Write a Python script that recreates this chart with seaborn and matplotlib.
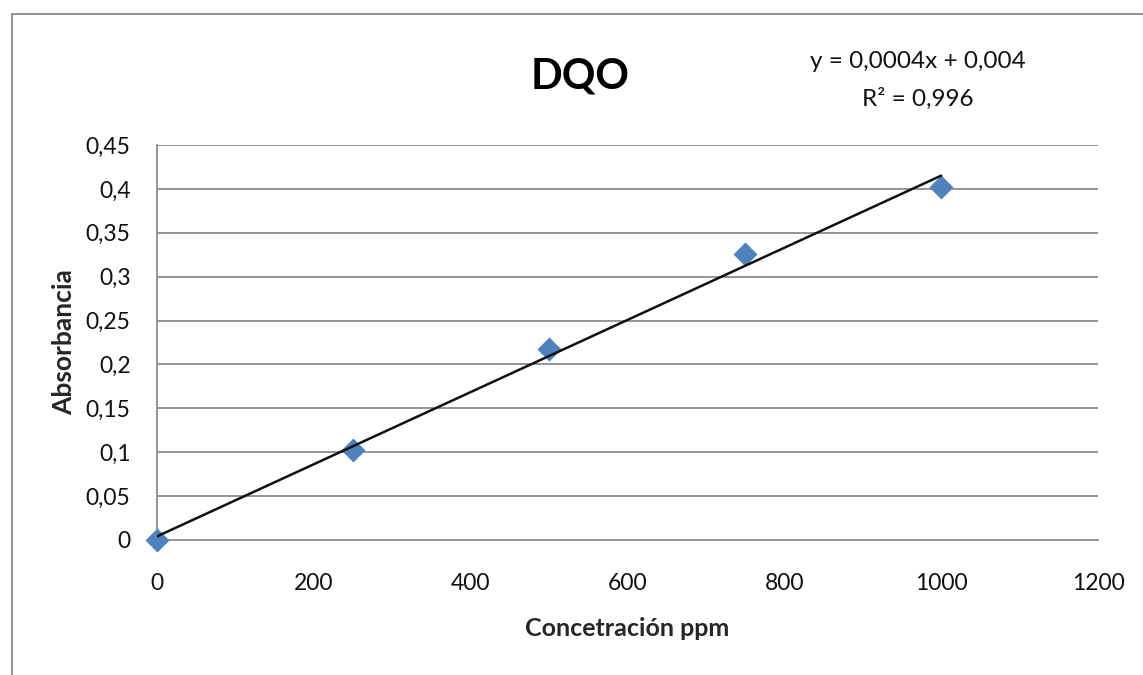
import numpy as np
import pandas as pd
import matplotlib
matplotlib.use("Agg")
import matplotlib.pyplot as plt
from matplotlib.patches import Rectangle
from matplotlib.ticker import FuncFormatter
import seaborn as sns

# Calibration data: concentration (ppm) vs absorbance
concentracion = [0, 250, 500, 750, 1000]
absorbancia = [0.0, 0.1025, 0.2176, 0.326, 0.402]
x_ticks = [0, 200, 400, 600, 800, 1000, 1200]
y_ticks = [0, 0.05, 0.1, 0.15, 0.2, 0.25, 0.3, 0.35, 0.4, 0.45]
titulo = "DQO"
ecuacion = "y = 0,0004x + 0,004"
r2_texto = "R² = 0,996"

sns.set_theme(style="white")
plt.rcParams["font.family"] = ["Lato", "DejaVu Sans"]

df = pd.DataFrame({"x": concentracion, "y": absorbancia})

# Linear trend line fitted by least squares
slope, intercept = np.polyfit(df["x"], df["y"], 1)
trend = pd.DataFrame({"x": [min(concentracion), max(concentracion)]})
trend["y"] = slope * trend["x"] + intercept

fig = plt.figure(figsize=(11.43, 6.75), dpi=100)
ax = fig.add_axes([157 / 1143, 1 - 540 / 675, (1098 - 157) / 1143, (540 - 145) / 675])

grid_color = "#8c8c8c"
for yv in y_ticks[1:]:
    ax.axhline(yv, color=grid_color, lw=1.3, zorder=0)

sns.scatterplot(data=df, x="x", y="y", ax=ax, marker="D", s=150,
                color="#4f81bd", edgecolor="#4f81bd", linewidth=0, zorder=3)
sns.lineplot(data=trend, x="x", y="y", ax=ax, color="#111111", lw=1.8, zorder=4)

ax.set_xlim(0, 1200)
ax.set_ylim(0, 0.45)
ax.set_xticks(x_ticks)
ax.set_yticks(y_ticks)
fmt = FuncFormatter(lambda v, p: ("%g" % v).replace(".", ","))
ax.yaxis.set_major_formatter(fmt)
ax.xaxis.set_major_formatter(FuncFormatter(lambda v, p: "%d" % v))
ax.tick_params(axis="both", length=0, labelsize=16.5, colors="#111111")
ax.tick_params(axis="x", pad=24)
ax.tick_params(axis="y", pad=19)

for side in ["top", "right"]:
    ax.spines[side].set_visible(False)
for side in ["left", "bottom"]:
    ax.spines[side].set_color(grid_color)
    ax.spines[side].set_linewidth(1.3)
for coll in ax.collections:
    coll.set_clip_on(False)

ax.set_xlabel("Concetración ppm", fontsize=18, fontweight="bold", labelpad=16)
ax.set_ylabel("Absorbancia", fontsize=19, fontweight="bold", labelpad=7)

fig.text(580 / 1143, 1 - 76 / 675, titulo, fontsize=30, fontweight="bold",
         ha="center", va="center", color="#000000")
fig.text(918 / 1143, 1 - 62 / 675, ecuacion, fontsize=17.5, ha="center", va="center",
         color="#111111")
fig.text(918 / 1143, 1 - 99 / 675, r2_texto, fontsize=17.5, ha="center", va="center",
         color="#111111")

# Chart area border
fig.patches.append(Rectangle((12 / 1143, -0.05), 1.1, (675 - 14) / 675 + 0.05,
                             transform=fig.transFigure, fill=False,
                             edgecolor="#8c8c8c", lw=1.3))

fig.savefig("out.png", dpi=100)
